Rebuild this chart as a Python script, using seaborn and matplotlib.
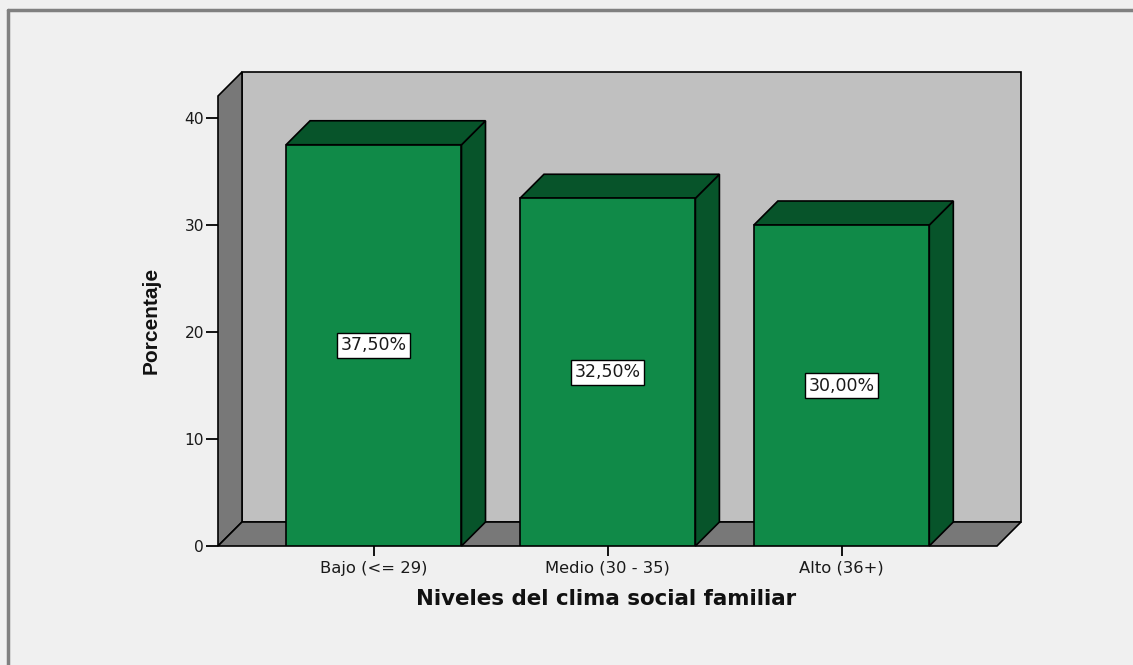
import seaborn as sns
import matplotlib.pyplot as plt
import matplotlib.patches as mpatches
import numpy as np
import pandas as pd

sns.set_style('white')
plt.rcParams['font.family'] = ['DejaVu Sans']

# datos del gráfico
categorias = ['Bajo (<= 29)', 'Medio (30 - 35)', 'Alto (36+)']
porcentajes = [37.5, 32.5, 30.0]
etiquetas = ['37,50%', '32,50%', '30,00%']

data = pd.DataFrame({'Nivel': categorias, 'Porcentaje': porcentajes})

verde = '#108a48'
verde_osc = '#07542a'
pared = '#c0c0c0'
suelo = '#787878'
fondo = '#f0f0f0'

fig = plt.figure(figsize=(11.33, 6.65), dpi=100, facecolor=fondo)
ax = fig.add_axes([218 / 1133, (665 - 546) / 665, 803 / 1133, 474 / 665])
ax.set_facecolor('none')

sns.barplot(x='Nivel', y='Porcentaje', data=data, color=verde, width=0.75,
            saturation=1, edgecolor='black', linewidth=1.2, ax=ax, zorder=5)

xmin, xmax_v = -0.666, 2.767
ytop = 44.3
ax.set_xlim(xmin, xmax_v)
ax.set_ylim(0, ytop)

# profundidad 3D (24 px) en unidades de datos
fig.canvas.draw()
p0 = ax.transData.transform((0, 0))
inv = ax.transData.inverted()
dx, dy = inv.transform(p0 + np.array([24, 24]))
xmax = xmax_v - dx

kw = dict(edgecolor='black', linewidth=1.2, clip_on=False)
# pared del fondo, pared izquierda y suelo
ax.add_patch(mpatches.Polygon([(xmin + dx, dy), (xmax + dx, dy), (xmax + dx, ytop), (xmin + dx, ytop)],
                              facecolor=pared, zorder=1, **kw))
ax.add_patch(mpatches.Polygon([(xmin, 0), (xmin + dx, dy), (xmin + dx, ytop), (xmin, ytop - dy)],
                              facecolor=suelo, zorder=2, **kw))
ax.add_patch(mpatches.Polygon([(xmin, 0), (xmax, 0), (xmax + dx, dy), (xmin + dx, dy)],
                              facecolor=suelo, zorder=2, **kw))

# caras laterales y superiores de cada barra
for bar, txt in zip(ax.patches[:len(categorias)], etiquetas):
    x0 = bar.get_x()
    x1 = x0 + bar.get_width()
    h = bar.get_height()
    ax.add_patch(mpatches.Polygon([(x1, 0), (x1 + dx, dy), (x1 + dx, h + dy), (x1, h)],
                                  facecolor=verde_osc, zorder=4, **kw))
    ax.add_patch(mpatches.Polygon([(x0, h), (x1, h), (x1 + dx, h + dy), (x0 + dx, h + dy)],
                                  facecolor=verde_osc, zorder=4, **kw))
    ax.text((x0 + x1) / 2, h / 2, txt, ha='center', va='center', fontsize=12.5, color='#1a1a1a', zorder=7,
            bbox=dict(boxstyle='square,pad=0.2', facecolor='white', edgecolor='black', linewidth=1))

for s in ax.spines.values():
    s.set_visible(False)
ax.set_yticks([0, 10, 20, 30, 40])
ax.tick_params(axis='y', left=True, direction='out', length=9, width=1.3, color='black',
               labelsize=11.2, labelcolor='#1a1a1a', pad=1)
ax.tick_params(axis='x', bottom=True, direction='out', length=7.5, width=1.3, color='black',
               labelsize=11.8, labelcolor='#1a1a1a', pad=3)

ax.set_xlabel('Niveles del clima social familiar', fontsize=15.4, fontweight='bold', color='#111111')
ax.xaxis.set_label_coords(0.483, -0.09)
ax.set_ylabel('Porcentaje', fontsize=15, fontweight='bold', color='#111111', family='Liberation Sans')
ax.yaxis.set_label_coords(-0.071, 0.475)

# borde exterior
fig.add_artist(plt.Line2D([8 / 1133, 8 / 1133], [0, 1 - 10 / 665], color='#808080', lw=2.5))
fig.add_artist(plt.Line2D([8 / 1133, 1], [1 - 10 / 665, 1 - 10 / 665], color='#808080', lw=2.5))

fig.savefig('out.png', dpi=100, facecolor=fondo)
